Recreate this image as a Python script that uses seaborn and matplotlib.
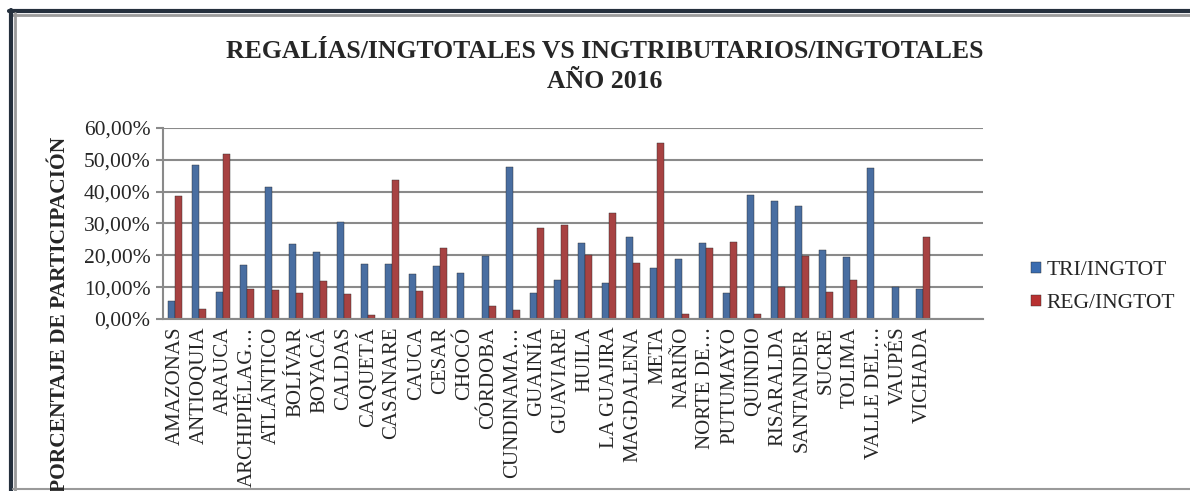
import seaborn as sns
import matplotlib.pyplot as plt
import pandas as pd
from matplotlib.lines import Line2D
from matplotlib.ticker import FuncFormatter

# values (fraction of total income)
departamentos = ['AMAZONAS', 'ANTIOQUIA', 'ARAUCA', 'ARCHIPIÉLAG…', 'ATLÁNTICO',
                 'BOLÍVAR', 'BOYACÁ', 'CALDAS', 'CAQUETÁ', 'CASANARE', 'CAUCA',
                 'CESAR', 'CHOCÓ', 'CÓRDOBA', 'CUNDINAMA…', 'GUAINÍA', 'GUAVIARE',
                 'HUILA', 'LA GUAJIRA', 'MAGDALENA', 'META', 'NARIÑO', 'NORTE DE…',
                 'PUTUMAYO', 'QUINDIO', 'RISARALDA', 'SANTANDER', 'SUCRE', 'TOLIMA',
                 'VALLE DEL…', 'VAUPÉS', 'VICHADA']
tri_ingtot = [0.057, 0.484, 0.084, 0.171, 0.415, 0.236, 0.210, 0.306, 0.173, 0.172,
              0.142, 0.166, 0.144, 0.199, 0.477, 0.082, 0.123, 0.239, 0.112, 0.258,
              0.161, 0.189, 0.239, 0.081, 0.390, 0.371, 0.354, 0.218, 0.196, 0.474,
              0.099, 0.094]
reg_ingtot = [0.387, 0.031, 0.518, 0.095, 0.092, 0.081, 0.118, 0.080, 0.014, 0.436,
              0.087, 0.224, 0.0, 0.042, 0.028, 0.287, 0.294, 0.201, 0.334, 0.175,
              0.552, 0.017, 0.222, 0.242, 0.017, 0.100, 0.199, 0.086, 0.122, 0.0,
              0.0, 0.259]

df = pd.DataFrame({'Departamento': departamentos,
                   'TRI/INGTOT': tri_ingtot,
                   'REG/INGTOT': reg_ingtot})
long = df.melt(id_vars='Departamento', var_name='Serie', value_name='Valor')

sns.set_style('white')
plt.rcParams['font.family'] = ['Liberation Serif', 'DejaVu Serif']

fig = plt.figure(figsize=(11.9, 4.91), dpi=100)
ax = fig.add_axes([163 / 1190, 1 - 319 / 491, 820 / 1190, 191 / 491])

sns.barplot(data=long, x='Departamento', y='Valor', hue='Serie',
            palette=['#3a6cb0', '#b83131'], width=0.58, ax=ax,
            edgecolor='#2a2a2a', linewidth=0.3, legend=False)

ax.set_xlim(-0.5, 33.5)
ax.set_ylim(0, 0.60)
ax.set_yticks([0, 0.1, 0.2, 0.3, 0.4, 0.5, 0.6])
ax.yaxis.set_major_formatter(FuncFormatter(lambda v, p: f'{v * 100:.2f}%'.replace('.', ',')))
ax.grid(axis='y', color='#8a8a8a', lw=1.5)
ax.set_axisbelow(True)
for s in ['top', 'right']:
    ax.spines[s].set_visible(False)
for s in ['left', 'bottom']:
    ax.spines[s].set_color('#8a8a8a')
    ax.spines[s].set_linewidth(1.5)
ax.tick_params(axis='y', left=True, length=5, color='#8a8a8a', width=1.5,
               labelsize=15.5, pad=4)
ax.tick_params(axis='x', bottom=False, labelsize=15, rotation=90, pad=2)
ax.set_xlabel('')
ax.set_ylabel('')

fig.text(60 / 1190, 1 - 137 / 491, 'PORCENTAJE DE PARTICIPACIÓN', rotation=90,
         ha='center', va='top', fontsize=15.5, fontweight='bold')

fig.text(605 / 1190, 1 - 52 / 491, 'REGALÍAS/INGTOTALES VS INGTRIBUTARIOS/INGTOTALES',
         ha='center', va='center', fontsize=18.5, fontweight='bold')
fig.text(605 / 1190, 1 - 82 / 491, 'AÑO 2016',
         ha='center', va='center', fontsize=18.5, fontweight='bold')

handles = [plt.Rectangle((0, 0), 1, 1, fc='#3a6cb0', ec='#2a2a2a', lw=0.3),
           plt.Rectangle((0, 0), 1, 1, fc='#b83131', ec='#2a2a2a', lw=0.3)]
fig.legend(handles, ['TRI/INGTOT', 'REG/INGTOT'], loc='center left',
           bbox_to_anchor=(1012 / 1190, 1 - 287 / 491), frameon=False,
           fontsize=15.5, handlelength=0.45, handleheight=0.45, handletextpad=0.25,
           labelspacing=0.65)

# window frame of the screenshot
fig.add_artist(Line2D([9 / 1190, 1], [1 - 11 / 491] * 2, color='#25303d', lw=3))
fig.add_artist(Line2D([13 / 1190, 1], [1 - 14.5 / 491] * 2, color='#9a9a9a', lw=2))
fig.add_artist(Line2D([11 / 1190] * 2, [0, 1 - 9.5 / 491], color='#25303d', lw=3))
fig.add_artist(Line2D([14.5 / 1190] * 2, [0, 1 - 13 / 491], color='#9a9a9a', lw=2))
fig.add_artist(Line2D([13 / 1190, 1], [1 - 489 / 491] * 2, color='#9a9a9a', lw=1.5))

fig.savefig('out.png', dpi=100)
